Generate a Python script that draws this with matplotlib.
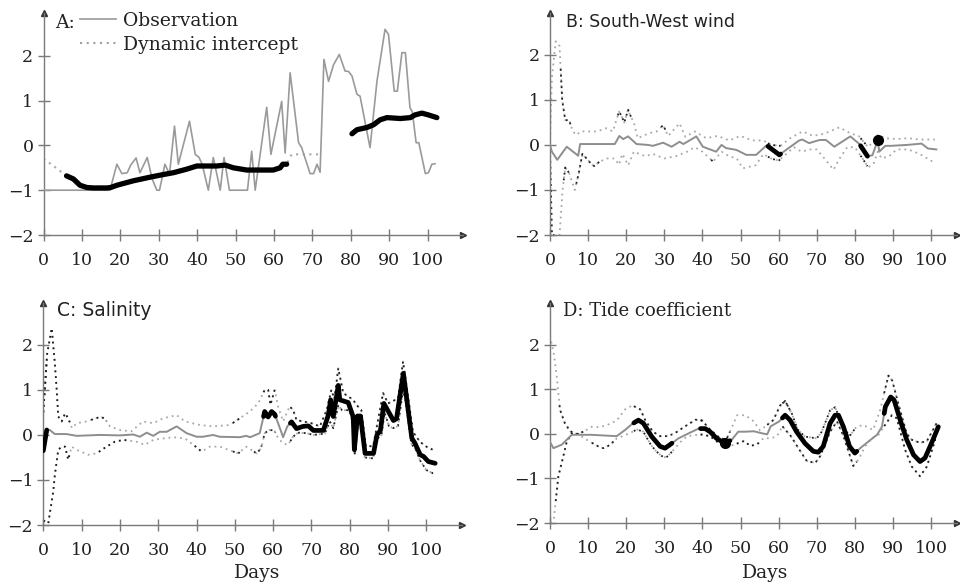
import numpy as np
import matplotlib
matplotlib.use("Agg")
import matplotlib.pyplot as plt
from matplotlib.lines import Line2D

# ---------------- data ----------------
# Panel A
obs_days = [0, 17.3, 19.1, 20.4, 21.8, 22.7, 24.1, 25.1, 27.0, 28.3, 29.5, 30.2, 31.6, 32.8,
            34.1, 35.1, 38.0, 39.5, 40.5, 41.3, 42.9, 44.2, 46.0, 47.0, 48.4, 53.1, 54.2, 55.1,
            58.1, 59.2, 62.0, 62.9, 64.2, 66.4, 67.2, 69.4, 70.3, 71.2, 72.0, 73.0, 74.2, 75.5,
            77.0, 78.5, 79.4, 80.3, 81.6, 82.4, 85.0, 86.8, 88.9, 89.8, 91.3, 92.1, 93.3, 94.2,
            95.4, 96.0, 97.0, 97.7, 99.4, 100.2, 101.1, 101.9]
obs_vals = [-1, -1, -0.42, -0.63, -0.61, -0.44, -0.28, -0.61, -0.27, -0.75, -1.0, -1.0, -0.42,
            -0.64, 0.43, -0.42, 0.54, -0.2, -0.27, -0.42, -1.0, -0.27, -1.0, -0.27, -1.0, -1.0,
            -0.13, -1.0, 0.85, -0.2, 0.98, -0.17, 1.62, 0.06, -0.05, -0.63, -0.63, -0.42, -0.6,
            1.92, 1.43, 1.8, 2.03, 1.66, 1.65, 1.55, 1.14, 1.1, -0.05, 1.43, 2.59, 2.48, 1.21,
            1.21, 2.07, 2.07, 0.84, 0.75, 0.06, 0.06, -0.63, -0.61, -0.42, -0.41]
int_days = [0, 2, 4, 6, 7.8, 9.5, 11.3, 13, 16.5, 17.5, 19.1, 23.4, 27.7, 31.2, 33.8, 37.3,
            39.9, 42.5, 45.1, 47.3, 49.4, 52.9, 59.8, 61.6, 62.3, 63.3, 64.6, 72.4, 73, 80.3,
            81.6, 84.2, 85.9, 87.6, 89.4, 92.9, 95.5, 96.7, 98.5, 100.2, 102.4]
int_vals = [-0.3, -0.42, -0.55, -0.68, -0.75, -0.89, -0.94, -0.95, -0.95, -0.94, -0.89, -0.79,
            -0.71, -0.65, -0.61, -0.53, -0.46, -0.46, -0.46, -0.44, -0.5, -0.55, -0.55, -0.5,
            -0.42, -0.42, -0.2, -0.2, np.nan, 0.26, 0.35, 0.4, 0.46, 0.57, 0.62, 0.6, 0.62,
            0.68, 0.72, 0.68, 0.62]
int_sig = [(6, 63.3), (80.3, 102.4)]

# Panel B: South-West wind
b_days = [0, 0.5, 1.9, 4.4, 7.4, 7.9, 17, 18.2, 19.2, 20.5, 22.7, 25.7, 27, 29.7, 31.9, 34, 35,
          38.4, 40.1, 43.6, 45, 46.2, 48.9, 51.5, 54.1, 56.7, 57.2, 60.2, 62.6, 65.4, 66.2, 68,
          70.7, 72.4, 74.6, 78.8, 81.2, 83.3, 84.6, 86, 86.4, 88, 89.4, 93.6, 97.5, 99.2, 101.4]
b_vals = [0, -0.15, -0.33, -0.04, -0.24, 0.02, 0.02, 0.2, 0.13, 0.19, 0.02, 0, -0.02, 0.05,
          -0.04, 0.07, 0.02, 0.19, -0.04, -0.15, 0, -0.07, -0.11, -0.22, -0.22, -0.02, -0.03,
          -0.22, -0.07, 0.1, 0.12, 0.04, 0.11, 0.11, -0.04, 0.19, 0.02, -0.25, -0.23, 0.1,
          -0.15, -0.02, -0.02, 0.0, 0.03, -0.08, -0.1]
b_up_days = [0, 0.5, 1.5, 2.5, 3.2, 4, 5, 6, 7, 8, 10, 12.2, 14.8, 16.5, 18.1, 18.6, 19.5, 20.5,
             21, 22, 23, 26, 28, 29.7, 31, 34, 35.5, 38, 41, 44, 47, 50, 53, 56, 58, 60.5, 63,
             66.3, 69, 72, 75.9, 79, 81, 83.5, 85, 86, 88, 91, 94, 97, 101]
b_up_vals = [0.1, 1.5, 2.3, 2.2, 1.0, 0.55, 0.55, 0.3, 0.22, 0.3, 0.3, 0.3, 0.37, 0.3, 0.74,
             0.67, 0.5, 0.78, 0.67, 0.5, 0.15, 0.26, 0.3, 0.44, 0.2, 0.48, 0.18, 0.3, 0.15, 0.2,
             0.1, 0.2, 0.1, 0.1, 0.0, -0.02, 0.15, 0.3, 0.2, 0.25, 0.39, 0.25, 0.2, -0.05, 0.1,
             0.22, 0.15, 0.13, 0.15, 0.12, 0.12]
b_lo_days = [0, 0.5, 2.5, 3.3, 4, 5, 6.5, 7.5, 8.5, 9.8, 10.7, 11.6, 13, 15, 17, 18.1, 19, 20.5,
             22, 25, 27, 30, 33, 36, 38, 40, 42.8, 45, 47, 49, 50.6, 54, 56, 58, 60, 62, 64, 66,
             68, 70, 72, 74.4, 76, 78, 80, 82, 83.5, 85, 86, 87, 89, 91, 94, 97, 99, 101]
b_lo_vals = [-0.1, -2.0, -2.0, -1.0, -0.5, -0.62, -1.0, -0.65, -0.2, -0.32, -0.41, -0.47, -0.37,
             -0.3, -0.3, -0.44, -0.2, -0.45, -0.15, -0.25, -0.2, -0.3, -0.25, -0.15, -0.05,
             -0.15, -0.37, -0.15, -0.25, -0.3, -0.52, -0.45, -0.2, -0.3, -0.35, -0.2, -0.05,
             -0.15, -0.1, -0.1, -0.3, -0.55, -0.3, -0.05, -0.05, -0.3, -0.5, -0.4, -0.15, -0.3,
             -0.25, -0.1, -0.1, -0.2, -0.3, -0.4]
b_sig = [(57.2, 60.5), (81.5, 83.3)]
b_dots = [86.0]
b_dark_up = [(2.8, 5.5), (17.8, 21.5), (29.2, 30.5)]
b_dark_lo = [(0, 1.0), (3.6, 5.3), (6.9, 13.2), (42.3, 43.3)]

# Panel C: Salinity
c_days = [0, 0.9, 1.7, 3, 6, 8.7, 14.8, 20, 23.5, 25.2, 27, 28.7, 30.4, 32.2, 34.8, 37.4, 40,
          41.7, 44.3, 46, 51.3, 53, 54, 56.5, 57.8, 58.7, 59.6, 60.4, 61.3, 62.6, 63.7, 64.8,
          66.1, 67.8, 69.2, 70.5, 73.1, 74.4, 75.0, 75.7, 77.0, 77.4, 79.6, 80.9, 81.2, 82.0,
          82.8, 84.0, 86.2, 87.1, 88.0, 88.9, 91.4, 92.2, 94.0, 96.2, 97.0, 98.4, 99.3, 100.5,
          102.3]
c_vals = [-0.35, 0.11, 0.11, 0.02, 0.02, -0.02, 0, -0.01, 0.01, -0.04, 0.05, -0.02, 0.07, 0.07,
          0.19, 0.04, -0.04, -0.04, 0, -0.04, -0.05, -0.02, -0.05, 0.04, 0.52, 0.4, 0.52, 0.46,
          0.26, -0.05, 0.19, 0.29, 0.14, 0.19, 0.2, 0.1, 0.1, 0.44, 0.78, 0.41, 1.1, 0.78, 0.72,
          0.4, -0.33, 0.42, 0.42, -0.41, -0.41, 0.0, 0.1, 0.7, 0.32, 0.36, 1.37, -0.07, -0.18,
          -0.44, -0.48, -0.59, -0.63]
c_up_days = [0, 1, 2.2, 3, 3.5, 3.9, 4.8, 5.7, 6.5, 7.5, 8.7, 11.3, 14.8, 16, 17.4, 20, 23, 26,
             28.7, 31.3, 34.8, 37, 40.9, 44.3, 48.7, 51.3, 53.9, 56.1, 57.8, 58.7, 59.3, 60.4,
             61.3, 62.6, 64.3, 65.2, 66.1, 67.8, 70, 72.2, 74, 75.2, 76, 77, 78.3, 80.9, 81.7,
             83, 84.2, 86.1, 88.7, 90, 92.6, 93.9, 94.8, 96.5, 98.3, 100, 101.7]
c_up_vals = [0.5, 1.8, 2.37, 1.6, 1.0, 0.41, 0.3, 0.48, 0.37, 0.15, 0.26, 0.3, 0.4, 0.37, 0.19,
             0.11, 0.08, 0.3, 0.26, 0.37, 0.44, 0.3, 0.22, 0.19, 0.22, 0.37, 0.52, 0.7, 1.0, 1.0,
             0.67, 1.0, 0.63, 0.3, 0.63, 0.56, 0.33, 0.3, 0.26, 0.19, 0.56, 1.0, 0.8, 1.48, 0.93,
             0.78, 0.67, 0.56, -0.25, -0.25, 0.93, 0.7, 0.81, 1.63, 1.11, 0.07, -0.15, -0.26,
             -0.33]
c_lo_days = [0, 1.3, 2.6, 3, 3.9, 4.8, 5.7, 6.5, 7.4, 8.7, 11.7, 13.9, 16.5, 18.7, 20.9, 24.3,
             26.5, 28.7, 31, 34, 37, 40.4, 41.3, 43.5, 46.1, 48.3, 50.9, 53, 55.7, 56.8, 57.8,
             59, 60.3, 61.3, 62.6, 63.9, 65.2, 66.5, 68.7, 70.5, 73.5, 74.8, 75.7, 77, 78, 80,
             80.9, 81.3, 82.2, 83, 83.9, 86.1, 87, 88.3, 89.1, 90.2, 91.3, 92.6, 93.9, 94.5,
             96.1, 97.4, 98.3, 100, 101.7]
c_lo_vals = [-1.9, -1.96, -1.26, -0.9, -0.33, -0.26, -0.26, -0.55, -0.26, -0.33, -0.44, -0.41,
             -0.26, -0.15, -0.11, -0.15, -0.22, -0.11, -0.08, -0.05, -0.08, -0.3, -0.37, -0.26,
             -0.26, -0.33, -0.41, -0.26, -0.41, -0.3, 0.04, 0.11, 0.1, -0.07, -0.19, -0.22,
             -0.04, 0.05, 0.04, 0.0, 0.03, 0.3, 0.15, 0.65, 0.55, 0.55, 0.2, -0.45, 0.25, 0.3,
             -0.5, -0.52, -0.1, 0.0, 0.5, 0.2, 0.15, 0.2, 1.0, 0.78, -0.2, -0.35, -0.56, -0.78,
             -0.85]
c_sig = [(0, 0.9), (57.5, 60.6), (64.5, 102.3)]
c_dark_up = [(0, 7.0), (12.5, 16.5), (49.5, 51.5)]
c_dark_lo = [(0, 7.0), (14.5, 22.0), (39.5, 41.5), (49.5, 51.5), (55.0, 57.0)]

# Panel D: Tide coefficient
d_days = [0, 0.9, 3.1, 5.7, 10.9, 17.5, 19.7, 21.5, 23.2, 24.5, 26.7, 28.9, 30.2, 31.5, 33.7,
          36.3, 39, 40.7, 42, 43.7, 45.9, 47.7, 49.4, 51.2, 53.5, 55.3, 57, 57.9, 60.1, 61.7,
          63, 64.7, 66.9, 69.1, 70.4, 71.7, 73.5, 74.8, 75.7, 77, 78.6, 80, 81.4, 84, 85.8,
          87.1, 88, 89.4, 90.3, 91.9, 93.6, 95.4, 97.1, 98.4, 100.1, 101.9]
d_vals = [-0.18, -0.32, -0.24, -0.02, -0.02, -0.05, 0.09, 0.22, 0.31, 0.24, -0.06, -0.28, -0.32,
          -0.24, -0.1, 0.01, 0.12, 0.12, 0.05, -0.1, -0.21, -0.13, 0.05, 0.05, 0.06, 0.02,
          -0.01, 0.17, 0.28, 0.42, 0.31, 0.05, -0.21, -0.39, -0.41, -0.28, 0.24, 0.42, 0.42,
          0.16, -0.28, -0.43, -0.32, -0.14, -0.02, 0.16, 0.61, 0.83, 0.76, 0.31, -0.13, -0.47,
          -0.62, -0.54, -0.21, 0.16]
d_up_days = [0, 1, 1.8, 2.6, 3.9, 5.3, 7, 8.8, 10.9, 13, 15, 17.5, 19.7, 21.6, 23.7, 25, 27,
             28.9, 30.5, 32.5, 34.2, 36, 38.2, 39.9, 42, 44.7, 46.3, 48, 49.1, 51.3, 53.5, 55.1,
             56.5, 58.6, 60.4, 61.7, 63.5, 65, 66.9, 70, 71.3, 73.5, 74.8, 77, 78.6, 80.4, 82.2,
             84.8, 86.6, 88.8, 89.8, 91.4, 93.6, 94.9, 97.1, 98.9, 101.5]
d_up_vals = [2.2, 1.8, 1.27, 0.55, 0.24, 0.06, 0.0, 0.05, 0.16, 0.15, 0.2, 0.3, 0.55, 0.64, 0.55,
             0.31, 0.05, -0.05, -0.05, 0.0, 0.1, 0.2, 0.32, 0.3, 0.1, -0.1, -0.12, 0.2, 0.42,
             0.42, 0.28, 0.08, 0.17, 0.31, 0.64, 0.74, 0.45, 0.1, -0.06, -0.1, 0.05, 0.53, 0.6,
             0.16, -0.05, 0.16, 0.2, 0.09, 0.53, 1.31, 1.2, 0.68, 0.01, -0.13, -0.2, -0.16, 0.25]
d_lo_days = [0, 1, 2.2, 3.5, 4.4, 5.7, 7.4, 9, 11, 12.7, 14, 15.7, 17.5, 19, 21, 22.8, 24.5,
             26.5, 28, 29.4, 30.5, 32, 34, 36, 39.5, 42, 44.7, 46.3, 48, 50.9, 52.6, 54.4, 56.1,
             57.7, 59.5, 61, 63.2, 66, 67.4, 69.6, 70.9, 73.5, 75.3, 77, 79.6, 80.9, 82.7, 84.4,
             86.2, 87.5, 89.7, 91, 93.2, 94.9, 97.1, 98.9, 101.1]
d_lo_vals = [-2.0, -1.9, -0.95, -0.5, -0.17, 0.01, 0.0, -0.1, -0.2, -0.28, -0.32, -0.25, -0.1,
             -0.05, 0.02, 0.1, 0.05, -0.25, -0.4, -0.5, -0.53, -0.4, -0.2, -0.05, -0.01, -0.05,
             -0.23, -0.3, -0.25, -0.16, -0.27, -0.23, -0.09, -0.1, -0.06, 0.17, -0.05, -0.43,
             -0.61, -0.65, -0.5, 0.05, 0.28, -0.05, -0.72, -0.58, -0.28, -0.1, -0.02, 0.15, 0.42,
             0.35, -0.36, -0.73, -0.95, -0.73, -0.13]
d_sig = [(22.0, 32.0), (39.5, 47.2), (61.0, 80.5), (87.7, 101.9)]
d_dots = [46.0]
d_dark_up = [(2.5, 9.0), (33.0, 40.0), (57.0, 63.0)]
d_dark_lo = [(1.5, 8.0), (11.0, 17.0), (49.0, 55.0)]

x_ticks = list(range(0, 101, 10))
y_ticks = [-2, -1, 0, 1, 2]

# ---------------- styling ----------------
W, H = 960, 586
SERIF = ["DejaVu Serif"]
SANS = ["DejaVu Sans"]
AXC = "#7a7a7a"
THIN = "#8e8e8e"
BANDC = "#a8a8a8"
DARKC = "#1e1e1e"
DOT = (0, (1, 2.2))

fig = plt.figure(figsize=(W / 100, H / 100), dpi=100)
fig.patch.set_facecolor("white")

layout = {
    "A": dict(x0=43.5, x1=463, yb=235, yt=13, xmax=109.2, ymax=2.955),
    "B": dict(x0=550, x1=957, yb=235, yt=13, xmax=106.8, ymax=2.93),
    "C": dict(x0=43.3, x1=462, yb=525, yt=303, xmax=109.3, ymax=2.93),
    "D": dict(x0=550, x1=957, yb=523, yt=303, xmax=106.8, ymax=2.94),
}


def make_ax(key):
    L = layout[key]
    ax = fig.add_axes([L["x0"] / W, 1 - L["yb"] / H, (L["x1"] - L["x0"]) / W,
                       (L["yb"] - L["yt"]) / H])
    ax.set_xlim(0, L["xmax"])
    ax.set_ylim(-2, L["ymax"])
    ax.set_facecolor("none")
    for s in ("top", "right"):
        ax.spines[s].set_visible(False)
    for s in ("left", "bottom"):
        ax.spines[s].set_color(AXC)
        ax.spines[s].set_linewidth(1.0)
    ax.set_xticks(x_ticks)
    ax.set_yticks(y_ticks)
    ax.tick_params(axis="both", direction="inout", length=8.5, width=1.0, color=AXC,
                   labelcolor="#222222", labelsize=12.5)
    ax.tick_params(axis="x", pad=8)
    ax.tick_params(axis="y", pad=3)
    for lab in ax.get_xticklabels() + ax.get_yticklabels():
        lab.set_family(SERIF)
    ax.plot(1, 0, marker=">", ms=5, color="#333", transform=ax.transAxes, clip_on=False)
    ax.plot(0, 1, marker="^", ms=4, color="#333", transform=ax.transAxes, clip_on=False)
    return ax


def segment(days, vals, a, b):
    d = np.asarray(days, float)
    v = np.asarray(vals, float)
    inside = (d > a) & (d < b)
    x = np.concatenate([[a], d[inside], [b]])
    ok = ~np.isnan(v)
    y = np.interp(x, d[ok], v[ok])
    return x, y


def coef_panel(ax, days, vals, up_d, up_v, lo_d, lo_v, sig, dark_up, dark_lo, dots=()):
    ax.plot(up_d, up_v, color=BANDC, ls=DOT, lw=1.3, zorder=2)
    ax.plot(lo_d, lo_v, color=BANDC, ls=DOT, lw=1.3, zorder=2)
    ax.plot(days, vals, color=THIN, lw=1.4, zorder=3)
    for dd, vv, extra in ((up_d, up_v, dark_up), (lo_d, lo_v, dark_lo)):
        for a, b in list(sig) + list(extra):
            x, y = segment(dd, vv, a, b)
            ax.plot(x, y, color=DARKC, ls=DOT, lw=1.3, zorder=2.5)
    for a, b in sig:
        x, y = segment(days, vals, a, b)
        ax.plot(x, y, color="black", lw=3.4, solid_capstyle="round",
                solid_joinstyle="round", zorder=4)
    for d0 in dots:
        ax.plot([d0], [np.interp(d0, days, vals)], "o", color="black", ms=7, zorder=5)


# Panel A
axA = make_ax("A")
axA.plot(obs_days, obs_vals, color="#9a9a9a", lw=1.2, zorder=3)
axA.plot(int_days, int_vals, color="#a8a8a8", ls=DOT, lw=1.5, zorder=2)
for a, b in int_sig:
    x, y = segment(int_days, int_vals, a, b)
    axA.plot(x, y, color="black", lw=3.8, solid_capstyle="round", zorder=4)
handles = [Line2D([], [], color="#9a9a9a", lw=1.2),
           Line2D([], [], color="#a0a0a0", ls=DOT, lw=1.5)]
leg = axA.legend(handles, ["Observation", "Dynamic intercept"], loc="upper left",
                 bbox_to_anchor=(80 / W, 1 - 12 / H), bbox_transform=fig.transFigure,
                 frameon=False, prop={"family": SERIF, "size": 13.5}, handlelength=1.9,
                 handletextpad=0.4, labelspacing=0.32, borderpad=0, borderaxespad=0)
for t in leg.get_texts():
    t.set_color("#222")
fig.text(55 / W, 1 - 23 / H, "A:", family=SERIF, size=13.5, color="#222", va="center",
         ha="left")

# Panel B
axB = make_ax("B")
coef_panel(axB, b_days, b_vals, b_up_days, b_up_vals, b_lo_days, b_lo_vals, b_sig,
           b_dark_up, b_dark_lo, b_dots)
fig.text(566 / W, 1 - 22 / H, "B: South-West wind", family=SANS, size=12.5, color="#222",
         va="center", ha="left")

# Panel C
axC = make_ax("C")
coef_panel(axC, c_days, c_vals, c_up_days, c_up_vals, c_lo_days, c_lo_vals, c_sig,
           c_dark_up, c_dark_lo)
fig.text(57 / W, 1 - 311 / H, "C: Salinity", family=SANS, size=13.5, color="#222",
         va="center", ha="left")
fig.text(257 / W, 1 - 573 / H, "Days", family=SERIF, size=13.5, color="#222",
         va="center", ha="center")

# Panel D
axD = make_ax("D")
coef_panel(axD, d_days, d_vals, d_up_days, d_up_vals, d_lo_days, d_lo_vals, d_sig,
           d_dark_up, d_dark_lo, d_dots)
fig.text(563 / W, 1 - 311 / H, "D: Tide coefficient", family=SERIF, size=13, color="#222",
         va="center", ha="left")
fig.text(765 / W, 1 - 573 / H, "Days", family=SERIF, size=13.5, color="#222",
         va="center", ha="center")

fig.savefig("out.png", dpi=100)
